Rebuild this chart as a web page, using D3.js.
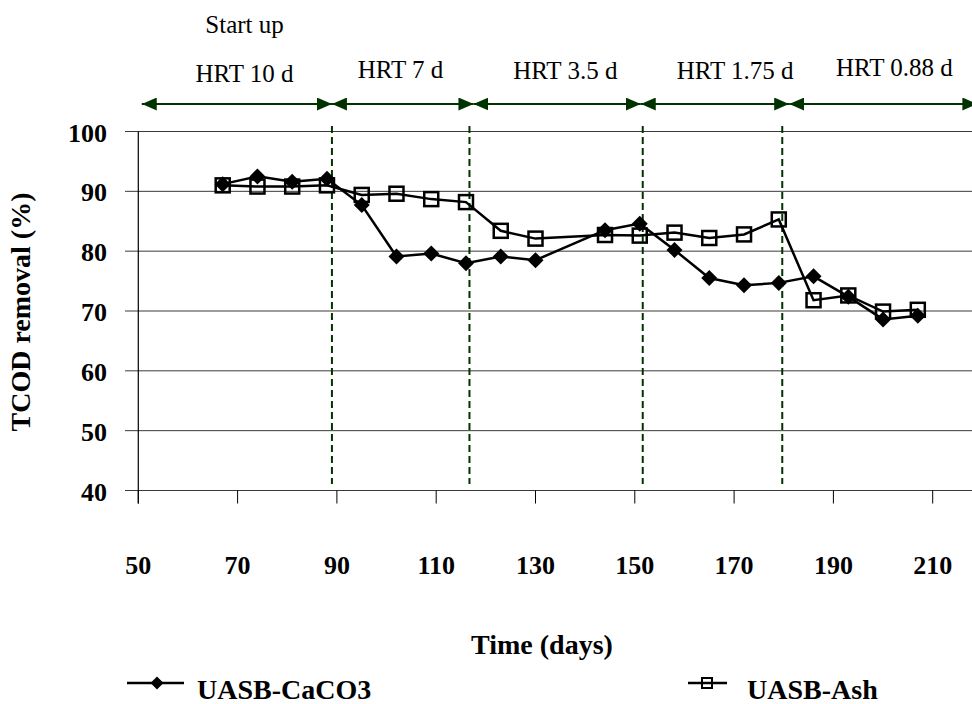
<!DOCTYPE html>
<html>
<head>
<meta charset="utf-8">
<script src="https://cdn.jsdelivr.net/npm/d3@7"></script>
<style>
  html, body { margin: 0; padding: 0; background: #fff; }
  svg { display: block; }
  text { font-family: "Liberation Serif", "Times New Roman", serif; fill: #000; }
</style>
</head>
<body>
<div id="chart"></div>
<script>
// Sampling days and TCOD removal (%) for the two reactors
const days   = [67, 74, 81, 88, 95, 102, 109, 116, 123, 130, 144, 151, 158, 165, 172, 179, 186, 193, 200, 207];
const caco3  = [91.2, 92.5, 91.6, 92.1, 87.7, 79.1, 79.6, 78.0, 79.1, 78.5, 83.5, 84.6, 80.2, 75.5, 74.3, 74.7, 75.8, 72.4, 68.6, 69.2];
const ash    = [91.0, 90.8, 90.8, 91.0, 89.4, 89.6, 88.7, 88.2, 83.4, 82.1, 82.7, 82.6, 83.1, 82.2, 82.8, 85.3, 71.8, 72.6, 69.9, 70.2];
const seriesNames = ["UASB-CaCO3", "UASB-Ash"];

// Axis ticks
const xTicks = [50, 70, 90, 110, 130, 150, 170, 190, 210];
const yTicks = [40, 50, 60, 70, 80, 90, 100];

// Operating periods: arrow limits (days), label text and label centre (days)
const periodBounds = [50.7, 89.0, 117.5, 151.2, 181.1, 219];
const periodLabels = ["HRT 10 d", "HRT 7 d", "HRT 3.5 d", "HRT 1.75 d", "HRT 0.88 d"];
const periodLabelDays = [71.4, 102.8, 136.0, 170.2, 202.3];
// Days where the HRT was changed (dashed markers)
const changeDays = [89.0, 116.7, 151.6, 179.7];

const W = 972, H = 704;
const svg = d3.select("#chart").append("svg").attr("width", W).attr("height", H);

const x = d3.scaleLinear().domain([50, 210]).range([138.3, 932.7]);
const y = d3.scaleLinear().domain([40, 100]).range([490.5, 131.5]);
const xRight = W + 2;
const green = "#003300";

// Horizontal grid lines with short ticks to the left of the axis
svg.append("g").selectAll("line").data(yTicks).join("line")
  .attr("x1", 125).attr("x2", xRight)
  .attr("y1", d => y(d)).attr("y2", d => y(d))
  .attr("stroke", "#3a3a3a").attr("stroke-width", 1);

// Y axis line
svg.append("line").attr("x1", x(50)).attr("x2", x(50))
  .attr("y1", y(100)).attr("y2", y(40) + 13)
  .attr("stroke", "#000").attr("stroke-width", 1.2);

// X axis ticks below the lowest grid line
svg.append("g").selectAll("line").data(xTicks).join("line")
  .attr("x1", d => x(d)).attr("x2", d => x(d))
  .attr("y1", y(40)).attr("y2", y(40) + 13)
  .attr("stroke", "#000").attr("stroke-width", 1);

// Tick labels
svg.append("g").selectAll("text").data(yTicks).join("text")
  .attr("x", 107).attr("y", d => y(d) + 10)
  .attr("text-anchor", "end").attr("font-size", 26).attr("font-weight", "bold")
  .text(d => d);

svg.append("g").selectAll("text").data(xTicks).join("text")
  .attr("x", d => x(d)).attr("y", 574)
  .attr("text-anchor", "middle").attr("font-size", 26).attr("font-weight", "bold")
  .text(d => d);

// Axis titles
svg.append("text")
  .attr("transform", "translate(30,312) rotate(-90)")
  .attr("text-anchor", "middle").attr("font-size", 28).attr("font-weight", "bold")
  .text("TCOD removal (%)");

svg.append("text")
  .attr("x", 542).attr("y", 654)
  .attr("text-anchor", "middle").attr("font-size", 28).attr("font-weight", "bold")
  .text("Time (days)");

// Dashed lines where HRT changes
svg.append("g").selectAll("line").data(changeDays).join("line")
  .attr("x1", d => x(d)).attr("x2", d => x(d))
  .attr("y1", 126).attr("y2", 484)
  .attr("stroke", green).attr("stroke-width", 2)
  .attr("stroke-dasharray", "7,4");

// Double-headed period arrows
const defs = svg.append("defs");
["start", "end"].forEach(k => {
  defs.append("marker")
    .attr("id", "arrow-" + k)
    .attr("viewBox", "0 0 15 13")
    .attr("refX", k === "end" ? 15 : 0).attr("refY", 6.5)
    .attr("markerWidth", 15).attr("markerHeight", 13)
    .attr("markerUnits", "userSpaceOnUse")
    .attr("orient", "auto")
    .append("path")
    .attr("d", k === "end" ? "M0,0L15,6.5L0,13Z" : "M15,0L0,6.5L15,13Z")
    .attr("fill", green);
});

const arrowY = 104;
svg.append("g").selectAll("line").data(d3.pairs(periodBounds)).join("line")
  .attr("x1", d => x(d[0])).attr("x2", d => x(d[1]))
  .attr("y1", arrowY).attr("y2", arrowY)
  .attr("stroke", green).attr("stroke-width", 2.2)
  .attr("marker-start", "url(#arrow-start)")
  .attr("marker-end", "url(#arrow-end)");

const labelBaselines = [81.7, 78.3, 79.3, 79.3, 76];
svg.append("g").selectAll("text").data(periodLabels).join("text")
  .attr("x", (d, i) => x(periodLabelDays[i]))
  .attr("y", (d, i) => labelBaselines[i])
  .attr("text-anchor", "middle").attr("font-size", 25)
  .text(d => d);

svg.append("text")
  .attr("x", x(periodLabelDays[0])).attr("y", 33)
  .attr("text-anchor", "middle").attr("font-size", 25)
  .text("Start up");

// Series
const line = d3.line().x(d => x(d[0])).y(d => y(d[1]));
const caco3Pts = days.map((d, i) => [d, caco3[i]]);
const ashPts = days.map((d, i) => [d, ash[i]]);

const diamond = (r) => `M0,${-r}L${r},0L0,${r}L${-r},0Z`;

svg.append("path").datum(caco3Pts).attr("d", line)
  .attr("fill", "none").attr("stroke", "#000").attr("stroke-width", 2.5);
svg.append("g").selectAll("path").data(caco3Pts).join("path")
  .attr("transform", d => `translate(${x(d[0])},${y(d[1])})`)
  .attr("d", diamond(8)).attr("fill", "#000");

svg.append("path").datum(ashPts).attr("d", line)
  .attr("fill", "none").attr("stroke", "#000").attr("stroke-width", 2.5);
svg.append("g").selectAll("rect").data(ashPts).join("rect")
  .attr("x", d => x(d[0]) - 7).attr("y", d => y(d[1]) - 7)
  .attr("width", 14).attr("height", 14)
  .attr("fill", "none").attr("stroke", "#000").attr("stroke-width", 2.5);

// Legend
const legY = 683;
svg.append("line").attr("x1", 127).attr("x2", 184).attr("y1", legY).attr("y2", legY)
  .attr("stroke", "#000").attr("stroke-width", 2.5);
svg.append("path").attr("transform", `translate(157,${legY})`)
  .attr("d", diamond(6.5)).attr("fill", "#000");
svg.append("text").attr("x", 197).attr("y", 699)
  .attr("font-size", 28).attr("font-weight", "bold").text(seriesNames[0]);

svg.append("line").attr("x1", 688).attr("x2", 727).attr("y1", legY).attr("y2", legY)
  .attr("stroke", "#000").attr("stroke-width", 2.5);
svg.append("rect").attr("x", 702).attr("y", legY - 5).attr("width", 10).attr("height", 10)
  .attr("fill", "none").attr("stroke", "#000").attr("stroke-width", 2);
svg.append("text").attr("x", 747).attr("y", 699)
  .attr("font-size", 28).attr("font-weight", "bold").text(seriesNames[1]);
</script>
</body>
</html>
